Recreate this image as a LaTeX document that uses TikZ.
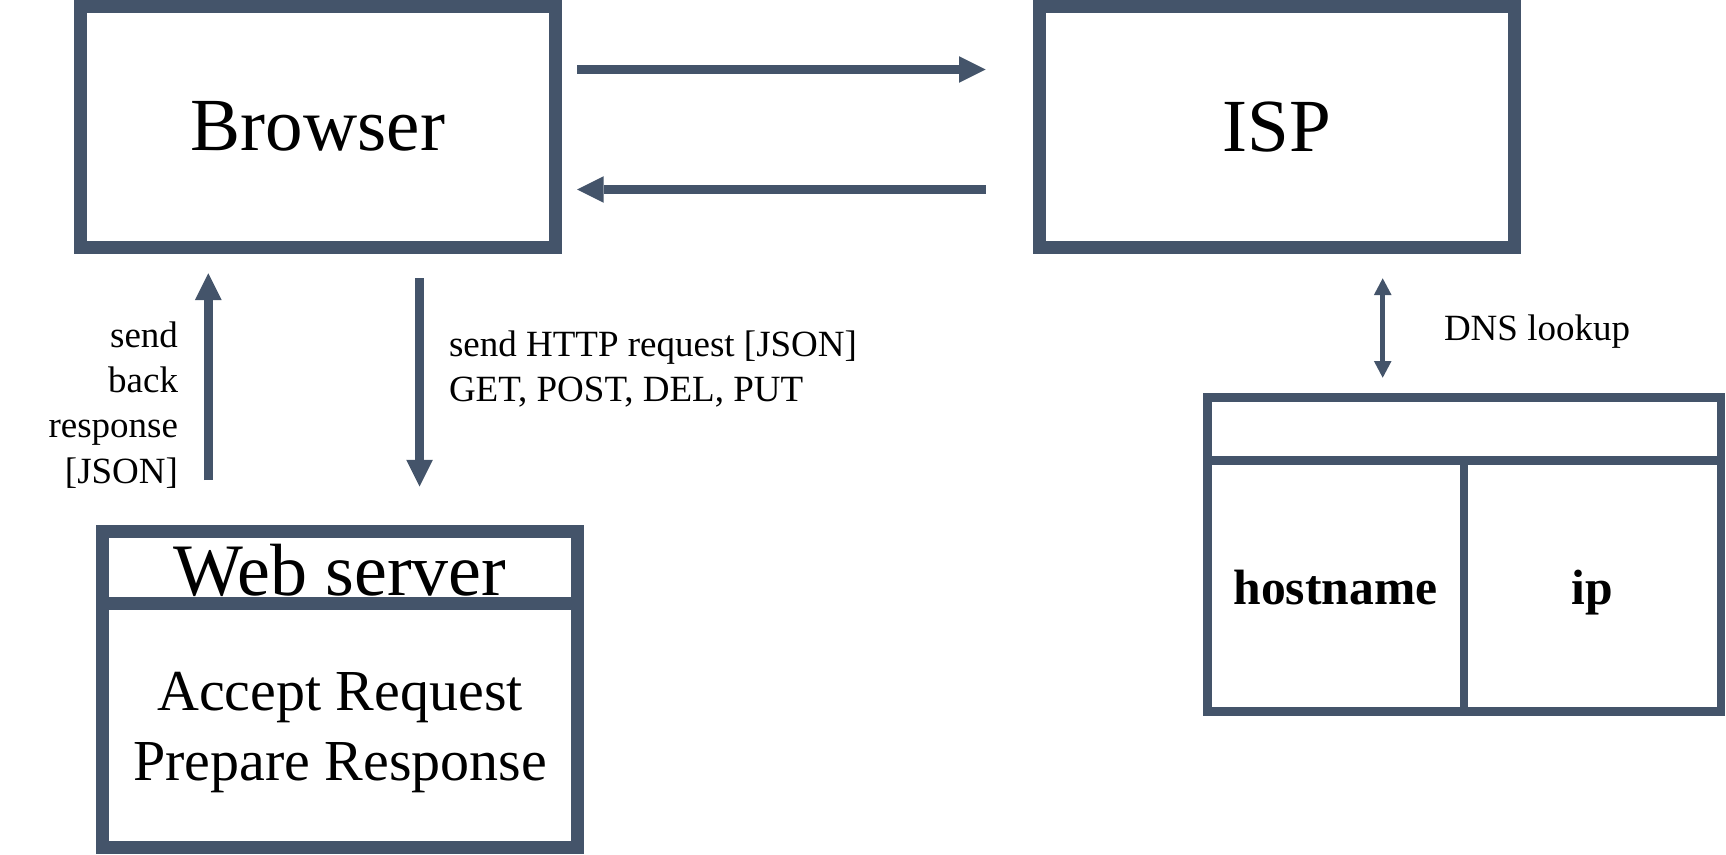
\documentclass[tikz,border=0pt]{standalone}
\usepackage{fontspec}
\setmainfont{Liberation Serif}
\usetikzlibrary{arrows.meta}
\definecolor{slate}{HTML}{44546A}

\begin{document}
\begin{tikzpicture}[
    x = 1pt, y = -1pt,
    outer sep = 0mm, inner sep = 0mm,
    box/.style = {
      rectangle, draw = slate, line width = 13pt,
      minimum width = 475pt, minimum height = 240.5pt,
      font = \fontsize{75}{90}\selectfont,
    },
    wall/.style = {draw = slate, line width = 13pt},
    small/.style = {font = \fontsize{37}{45.3}\selectfont},
    mid/.style = {font = \fontsize{58}{69.3}\selectfont},
    cell/.style = {font = \fontsize{49.6}{60}\selectfont\bfseries},
    arr/.style = {
      draw = slate, line width = 9pt,
      -{Triangle[length = 26.7pt, width = 26.7pt, line width = 0pt]},
    },
    dnsarr/.style = {
      draw = slate, line width = 5.5pt,
      {Triangle[length = 16.7pt, width = 17.7pt, line width = 0pt]}-{Triangle[length = 16.7pt, width = 17.7pt, line width = 0pt]},
    }
  ]

  \useasboundingbox (0,0) rectangle (1726,854);

  \node[box] (browser) at (318,126.8) {Browser};
  \node[box] (isp) at (1277,126.8) {ISP};

  \coordinate (req0) at (577,69.5);
  \coordinate (req1) at (985.7,69.5);
  \coordinate (ans0) at (985.7,189.5);
  \coordinate (ans1) at (577,189.5);
  \draw[arr] (req0) to (req1);
  \draw[arr] (ans0) to (ans1);

  % browser <-> web server
  \coordinate (up0) at (208.3,480);
  \coordinate (up1) at (208.3,273.3);
  \coordinate (down0) at (419.5,278.3);
  \coordinate (down1) at (419.5,486.5);
  \draw[arr] (up0) to (up1);
  \draw[arr] (down0) to (down1);
  \node[small, anchor = base east, align = right] (backlbl) at (178,483)
    {send\\back\\response\\{[JSON]}};
  \node[small, anchor = base west, align = left] (httplbl) at (449,401.7)
    {send HTTP request [JSON]\\GET, POST, DEL, PUT};

  % web server
  \node[box, minimum height = 316.2pt] (web) at (340,689.4) {};
  \coordinate (webdiv) at (0,603.7);
  \draw[wall] (web.west |- webdiv) to (web.east |- webdiv);
  \node[anchor = base, font = \fontsize{74}{88}\selectfont] (webtitle) at (340,595) {Web server};
  \node[mid, anchor = base, align = center] (webtxt) at (340,780)
    {Accept Request\\Prepare Response};

  % dns table
  \coordinate (dns0) at (1382.7,278.3);
  \coordinate (dns1) at (1382.7,377.7);
  \draw[dnsarr] (dns0) to (dns1);
  \node[small, anchor = base west] (dnslbl) at (1444,340.7) {DNS lookup};

  \node[draw = slate, line width = 8.5pt, minimum width = 513.7pt, minimum height = 314pt]
    (dns) at (1464.2,554.5) {};
  \coordinate (dnsdiv) at (0,460.5);
  \draw[slate, line width = 8.5pt] (dns.west |- dnsdiv) to (dns.east |- dnsdiv);
  \draw[slate, line width = 8.5pt] (dns.center |- dnsdiv) to (dns.south);
  \node[cell, anchor = base] (host) at (1335.5,604) {hostname};
  \node[cell, anchor = base] (ip) at (1592,604) {ip};
\end{tikzpicture}
\end{document}
